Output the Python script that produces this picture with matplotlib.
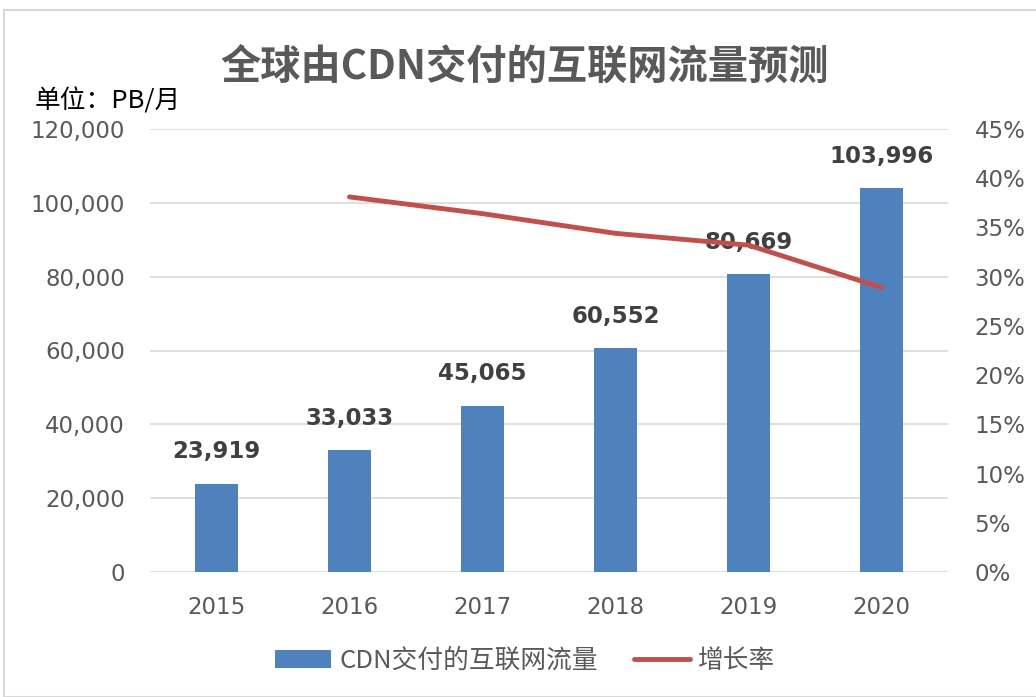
import matplotlib
matplotlib.use("Agg")
import matplotlib.pyplot as plt
from matplotlib.ticker import FuncFormatter, MultipleLocator
from matplotlib.patches import Rectangle

fam = ['DejaVu Sans', 'Noto Sans CJK SC']
cjk = ['Noto Sans CJK SC', 'DejaVu Sans']
plt.rcParams['font.family'] = fam

years = ["2015", "2016", "2017", "2018", "2019", "2020"]
traffic = [23919, 33033, 45065, 60552, 80669, 103996]
growth_years = ["2016", "2017", "2018", "2019", "2020"]
growth = [0.381, 0.364, 0.344, 0.332, 0.289]

title = "全球由CDN交付的互联网流量预测"
unit_label = "单位：PB/月"
bar_label = "CDN交付的互联网流量"
line_label = "增长率"

bar_color = "#4F81BD"
line_color = "#C0504D"
text_gray = "#595959"

fig = plt.figure(figsize=(10.36, 6.97), dpi=100)
fig.patches.append(Rectangle((4/1036, 0), 1.2, 1 - 10/697, transform=fig.transFigure,
                             fill=False, edgecolor="#D9D9D9", linewidth=1.5))

ax = fig.add_axes([150/1036, 1 - 572/697, 798/1036, 443/697])
x = list(range(len(years)))
bars = ax.bar(x, traffic, width=0.32, color=bar_color, zorder=3, label=bar_label)
ax.set_xlim(-0.5, len(years) - 0.5)
ax.set_ylim(0, 120000)
ax.yaxis.set_major_locator(MultipleLocator(20000))
ax.yaxis.set_major_formatter(FuncFormatter(lambda v, p: f"{int(v):,}"))
ax.set_xticks(x)
ax.set_xticklabels(years)
ax.grid(axis='y', color="#D9D9D9", linewidth=1.2, zorder=0)
for s in ax.spines.values():
    s.set_visible(False)
ax.tick_params(axis='both', length=0, labelsize=16.5, colors=text_gray)
ax.tick_params(axis='y', pad=18)
ax.tick_params(axis='x', pad=17)

for xi, v in zip(x, traffic):
    ax.text(xi, v + 8600, f"{v:,}", ha='center', va='center', fontsize=16.5,
            fontweight='bold', color="#404040", zorder=5)

ax2 = ax.twinx()
gx = [years.index(y) for y in growth_years]
ln, = ax2.plot(gx, growth, color=line_color, linewidth=3.5, solid_capstyle='round',
               zorder=4, label=line_label)
ax2.set_ylim(0, 0.45)
ax2.yaxis.set_major_locator(MultipleLocator(0.05))
ax2.yaxis.set_major_formatter(FuncFormatter(lambda v, p: f"{v*100:.0f}%"))
for s in ax2.spines.values():
    s.set_visible(False)
ax2.tick_params(axis='y', length=0, labelsize=16.5, colors=text_gray, pad=19)

fig.text(525/1036, 1 - 68/697, title, ha='center', va='center', fontsize=29,
         fontweight='bold', color=text_gray, family=cjk)
fig.text(35/1036, 1 - 101/697, unit_label, ha='left', va='center', fontsize=18.5,
         color="black", family=cjk)

fig.legend(handles=[bars, ln], labels=[bar_label, line_label], loc='center',
           bbox_to_anchor=(525/1036, 1 - 661/697), ncol=2, frameon=False,
           handlelength=2.2, columnspacing=1.4, handletextpad=0.3,
           labelcolor=text_gray, prop={'family': cjk, 'size': 18.5})

fig.savefig("out.png", dpi=100, facecolor="white")
